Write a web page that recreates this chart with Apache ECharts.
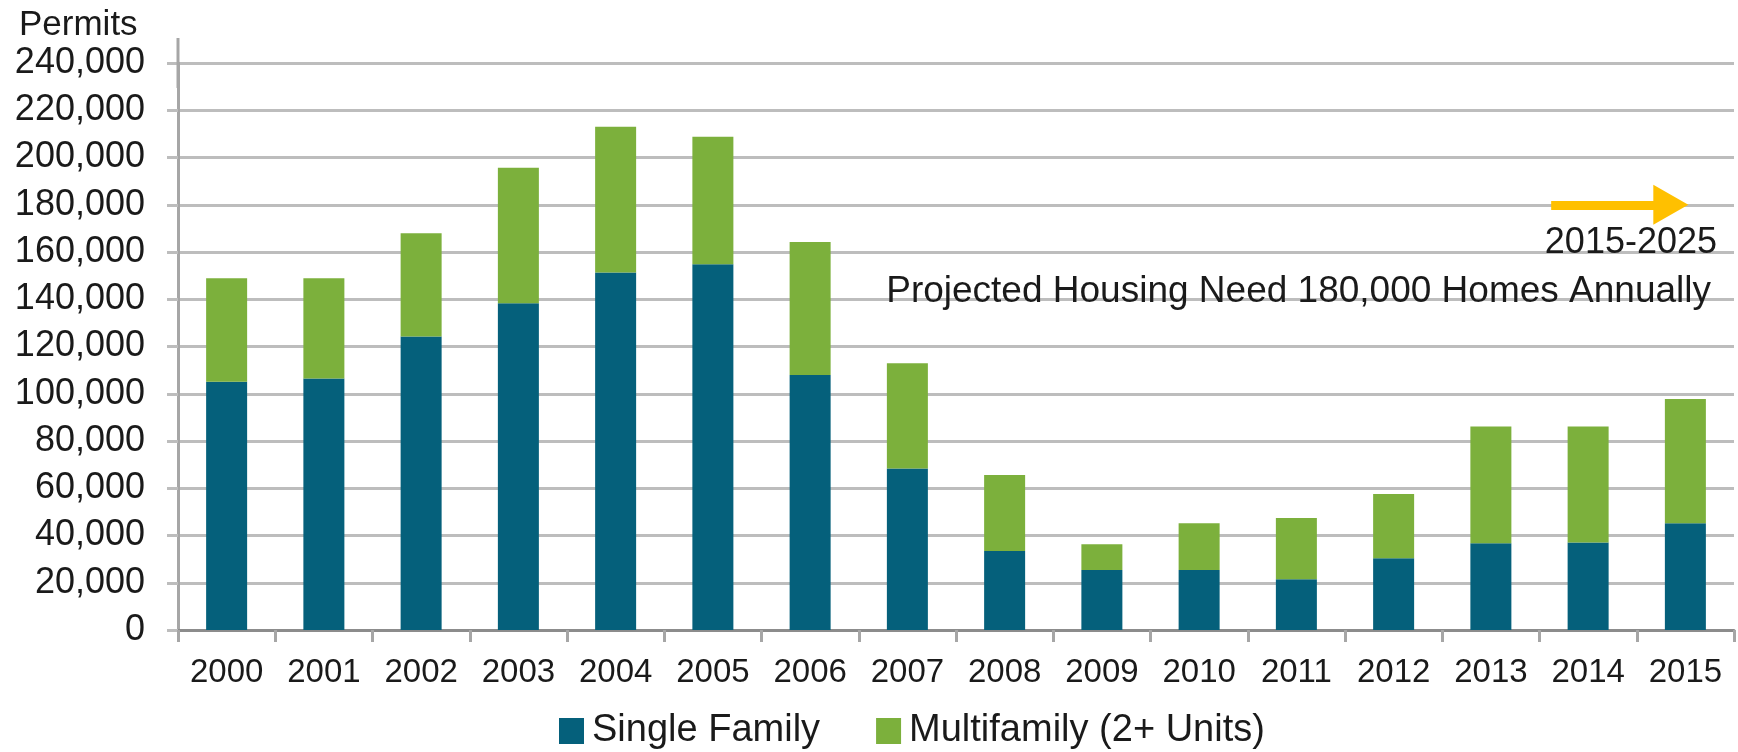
<!DOCTYPE html>
<html>
<head>
<meta charset="utf-8">
<title>Permits 2000-2015</title>
<script src="https://cdn.jsdelivr.net/npm/echarts@6/dist/echarts.min.js"></script>
<style>
    html, body { margin: 0; padding: 0; background: #fff; }
    #chart { width: 1738px; height: 752px; }
</style>
</head>
<body>
<div id="chart"></div>
<script>
    // data
    var years = ['2000', '2001', '2002', '2003', '2004', '2005', '2006', '2007',
                 '2008', '2009', '2010', '2011', '2012', '2013', '2014', '2015'];
    var singleFamily = [105100, 106500, 124200, 138300, 151300, 154800, 107900, 68400,
                        33400, 25400, 25400, 21500, 30400, 36700, 37000, 45200];
    var multiFamily = [43800, 42400, 43700, 57400, 61700, 54000, 56300, 44500,
                       32200, 10900, 19800, 25900, 27200, 49400, 49100, 52600];
    var projectedNeed = 180000;
    // arrow ends, in category units (0 = left edge of 2000, 16 = right edge of 2015)
    var arrowFrom = 14.12, arrowTo = 15.35;

    var font = '"Liberation Sans", Arial, sans-serif';
    var gridColor = '#bdbdbd';

    var mChart = echarts.init(document.getElementById('chart'));
    var option = {
        animation: false,
        title: {
            text: 'Permits',
            left: 14,
            top: 3,
            textStyle: { fontFamily: font, fontSize: 35, fontWeight: 'normal', color: '#1a1a1a' }
        },
        legend: {
            left: 559,
            top: 712,
            padding: 0,
            itemWidth: 25,
            itemHeight: 26,
            itemGap: 56,
            icon: 'rect',
            textStyle: { fontFamily: font, fontSize: 38, color: '#1a1a1a', padding: [0, 0, 0, 3] },
            data: ['Single Family', 'Multifamily (2+ Units)']
        },
        grid: { left: 178, right: 4, top: 63, bottom: 122, containLabel: false },
        xAxis: [
            {
                type: 'category',
                data: years,
                axisLine: { lineStyle: { color: '#8c8c8c', width: 3 } },
                axisTick: { show: true, interval: 0, length: 12, lineStyle: { color: '#a6a6a6', width: 3 } },
                axisLabel: { interval: 0, margin: 26, fontFamily: font, fontSize: 33, color: '#1a1a1a' }
            },
            {
                // hidden helper axis so the arrow can sit between categories
                type: 'value',
                min: 0,
                max: years.length,
                show: false
            }
        ],
        yAxis: {
            type: 'value',
            min: 0,
            max: 240000,
            interval: 20000,
            axisLine: {
                show: true,
                lineStyle: { color: '#a6a6a6', width: 3 },
                symbol: ['none', 'rect'],
                symbolSize: [3, 50]
            },
            axisTick: { show: true, length: 11, lineStyle: { color: gridColor, width: 3 } },
            splitLine: { lineStyle: { color: gridColor, width: 3 } },
            axisLabel: {
                margin: 33,
                fontFamily: font,
                fontSize: 36,
                color: '#1a1a1a',
                formatter: function (v) { return v.toLocaleString('en-US'); }
            }
        },
        graphic: [
            {
                type: 'text', x: 1717, y: 243, z: 100, silent: true,
                style: { text: '2015-2025', align: 'right', verticalAlign: 'middle',
                         fontFamily: font, fontSize: 36, fill: '#1a1a1a' }
            },
            {
                type: 'text', x: 1711, y: 292, z: 100, silent: true,
                style: { text: 'Projected Housing Need 180,000 Homes Annually', align: 'right', verticalAlign: 'middle',
                         fontFamily: font, fontSize: 37, fill: '#1a1a1a' }
            }
        ],
        series: [
            {
                name: 'Single Family',
                type: 'bar',
                stack: 'permits',
                barWidth: 41,
                itemStyle: { color: '#05607b' },
                data: singleFamily
            },
            {
                name: 'Multifamily (2+ Units)',
                type: 'bar',
                stack: 'permits',
                barWidth: 41,
                itemStyle: { color: '#7cb03c' },
                data: multiFamily
            },
            {
                name: 'arrow',
                type: 'line',
                xAxisIndex: 1,
                data: [],
                silent: true,
                markLine: {
                    silent: true,
                    symbol: ['none', 'triangle'],
                    symbolSize: [40, 35],
                    label: { show: false },
                    lineStyle: { color: '#ffc000', width: 9, type: 'solid' },
                    emphasis: { disabled: true },
                    data: [[
                        { coord: [arrowFrom, projectedNeed] },
                        { coord: [arrowTo, projectedNeed] }
                    ]]
                }
            }
        ]
    };
    mChart.setOption(option);
</script>
</body>
</html>
